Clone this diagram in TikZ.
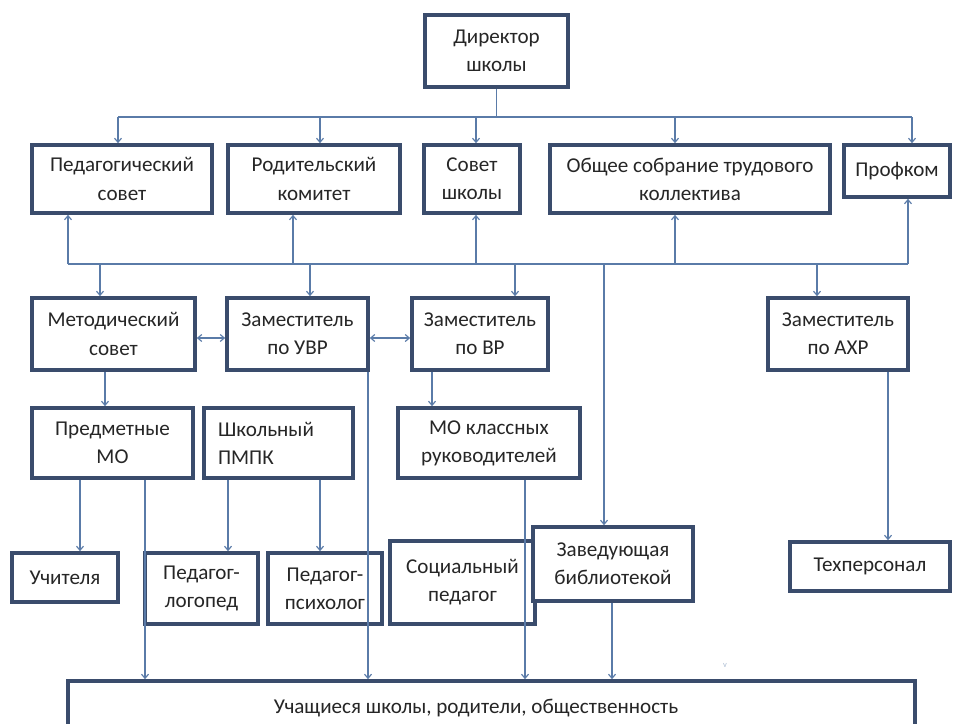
\documentclass[tikz,border=0pt]{standalone}
\usepackage{fontspec}
\setmainfont{Carlito}
\usetikzlibrary{arrows.meta}
\definecolor{cBox}{HTML}{3A4C6C}
\definecolor{cLine}{HTML}{5A7BA8}
\definecolor{cTxt}{HTML}{262626}
\tikzset{
  box/.style={draw=cBox, line width=2.5pt, fill=white, align=center, inner sep=2pt,
    text=cTxt},
  sz/.style 2 args={minimum width=#1*0.025cm, minimum height=#2*0.025cm},
  link/.style={draw=cLine, line width=0.8pt},
  flow/.style={link, -{Straight Barb[length=3pt,width=5pt]}},
  both/.style={link, {Straight Barb[length=3pt,width=5pt]}-{Straight Barb[length=3pt,width=5pt]}},
}

\begin{document}
\begin{tikzpicture}[x=0.025cm, y=-0.025cm, font=\fontsize{15}{20}\selectfont]
    \useasboundingbox (0,0) rectangle (955,724);
    % head and councils
    \node[box, sz={143}{72}] (dir) at (496.5,51) {Директор\\школы};
    \node[box, sz={180}{68}] (ped) at (122,179) {Педагогический\\совет};
    \node[box, sz={172}{68}] (rod) at (314,179) {Родительский\\комитет};
    \node[box, sz={96}{68}] (sov) at (472,179) {Совет\\школы};
    \node[box, sz={280}{68}] (obs) at (690,179) {Общее собрание трудового\\коллектива};
    \node[box, sz={106}{52}] (prof) at (897,171) {Профком};
    % deputies
    \node[box, sz={163}{72}] (met) at (113.5,334) {Методический\\совет};
    \node[box, sz={141}{72}] (uvr) at (297.5,334) {Заместитель\\по УВР};
    \node[box, sz={136}{72}] (vr) at (480,334) {Заместитель\\по ВР};
    \node[box, sz={140}{72}] (ahr) at (838,334) {Заместитель\\по АХР};
    \node[box, sz={161}{70}] (pred) at (112.5,443) {Предметные\\МО};
    \node[box, minimum height=70*0.025cm, align=left, inner xsep=14*0.025cm,
      text width=121*0.025cm] (pmpk) at (278.5,443) {Школьный\\ПМПК};
    \node[box, sz={182}{70}] (mok) at (489,443) {МО классных\\руководителей};
    % staff
    \node[box, sz={106}{49}] (uch) at (65,577.5) {Учителя};
    \node[box, sz={113}{71}] (log) at (201.5,588.5) {Педагог-\\логопед};
    \node[box, sz={114}{71}] (psy) at (325,588.5) {Педагог-\\психолог};
    \node[box, sz={145}{83}] (soc) at (462.5,582.5) {Социальный\\педагог};
    \node[box, sz={160}{74}] (lib) at (613,564) {Заведующая\\библиотекой};
    \node[box, sz={160}{49}] (teh) at (870,566.5) {Техперсонал};
    \node[box, sz={847}{55}] (stud) at (491.5,708.5) {};
    \node[text=cTxt] (studtxt) at (476,708) {Учащиеся школы, родители, общественность};
    \node[text=cLine!50, font=\fontsize{6}{6}\selectfont] (tick) at (725,665) {v};
    % buses
    \coordinate (busA) at (0,117);
    \coordinate (busB) at (0,264);
    \draw[link] (dir) -- (dir |- busA);
    \draw[link] (118,0 |- busA) -- (912,0 |- busA);
    \foreach \x/\n in {118/ped, 320/rod, 476/sov, 675/obs, 912/prof}
      \draw[flow] (\x,0 |- busA) -- (\x,0 |- \n.north);
    \draw[link] (68,0 |- busB) -- (908,0 |- busB);
    \foreach \x/\n in {68/ped, 293/rod, 476/sov, 675/obs, 908/prof}
      \draw[flow] (\x,0 |- busB) -- (\x,0 |- \n.south);
    \foreach \x/\n in {100/met, 310/uvr, 515/vr, 817/ahr}
      \draw[flow] (\x,0 |- busB) -- (\x,0 |- \n.north);
    \draw[flow] (604,0 |- busB) -- (604,0 |- lib.north);
    % links between and below the deputies
    \draw[both] (met.east |- 0,338) -- (uvr.west |- 0,338);
    \draw[both] (uvr.east |- 0,338) -- (vr.west |- 0,338);
    \draw[flow] (368,0 |- uvr.south) -- (368,0 |- stud.north);
    \draw[flow] (105,0 |- met.south) -- (105,0 |- pred.north);
    \draw[flow] (432,0 |- vr.south) -- (432,0 |- mok.north);
    \draw[flow] (80,0 |- pred.south) -- (80,0 |- uch.north);
    \draw[flow] (145,0 |- pred.south) -- (145,0 |- stud.north);
    \draw[flow] (228,0 |- pmpk.south) -- (228,0 |- log.north);
    \draw[flow] (320,0 |- pmpk.south) -- (320,0 |- psy.north);
    \draw[flow] (525,0 |- mok.south) -- (525,0 |- stud.north);
    \draw[flow] (612,0 |- lib.south) -- (612,0 |- stud.north);
    \draw[flow] (888,0 |- ahr.south) -- (888,0 |- teh.north);
  \end{tikzpicture}
\end{document}
